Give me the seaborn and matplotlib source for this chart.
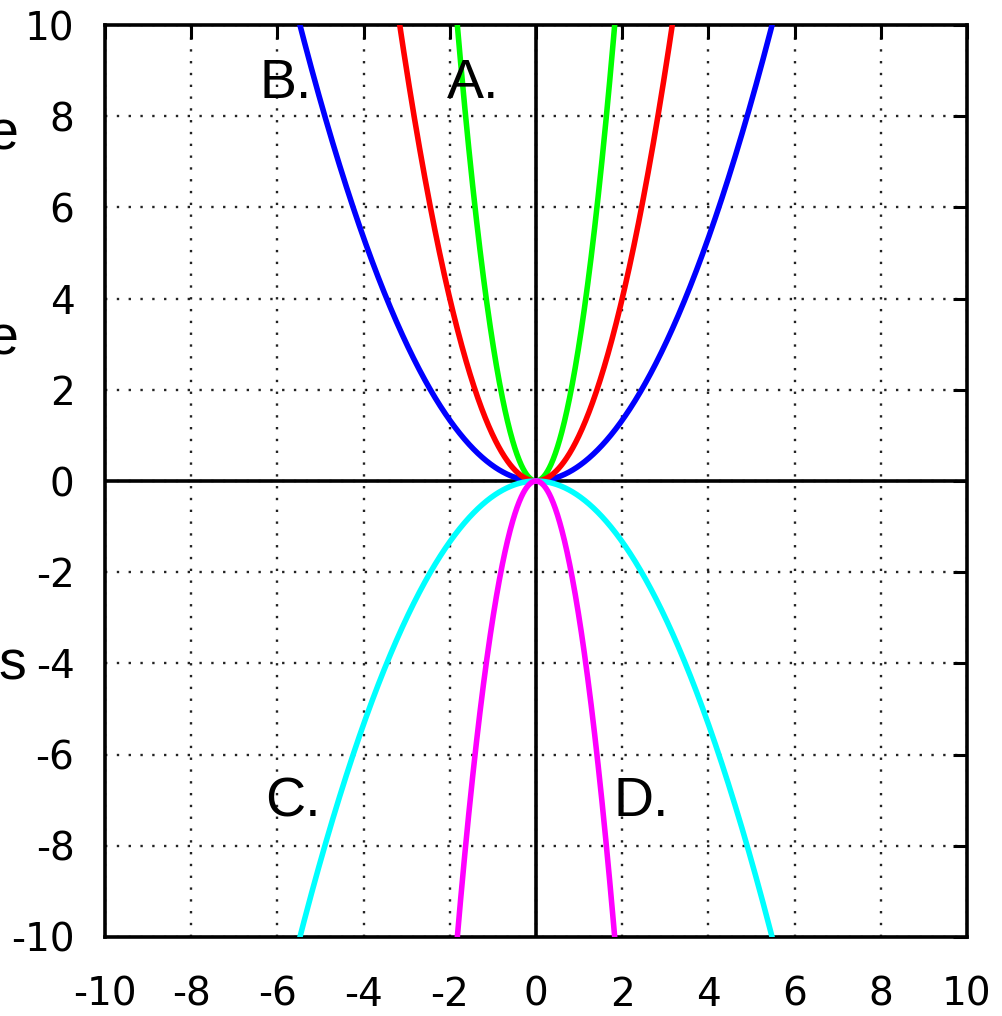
import numpy as np
import pandas as pd
import matplotlib
matplotlib.use("Agg")
import matplotlib.pyplot as plt
import seaborn as sns

# Parabolas y = a * x^2
curve_names = ["A_pos", "B_pos", "mid_pos", "C_neg", "D_neg"]
curve_coeffs = [3.0, 1.0 / 3.0, 1.0, -1.0 / 3.0, -3.0]
curve_colors = ["#00ff00", "#0000ff", "#ff0000", "#00ffff", "#ff00ff"]

tick_values = [-10, -8, -6, -4, -2, 0, 2, 4, 6, 8, 10]

label_texts = ["A.", "B.", "C.", "D."]
label_x = [-1.45, -5.8, -5.65, 2.45]
label_y = [8.7, 8.7, -7.05, -7.05]

sns.set_style("white")
plt.rcParams["axes.unicode_minus"] = False
plt.rcParams["text.color"] = "black"

xs = np.linspace(-6, 6, 1201)
frames = []
for name, a in zip(curve_names, curve_coeffs):
    ys = a * xs ** 2
    keep = np.abs(ys) <= 10.3
    frames.append(pd.DataFrame({"x": xs[keep], "y": ys[keep], "curve": name}))
df = pd.concat(frames, ignore_index=True)

fig = plt.figure(figsize=(10.02, 10.16), dpi=100)
ax = fig.add_axes([105 / 1002, 1 - 937 / 1016, (967 - 105) / 1002, (937 - 25) / 1016])

# dotted grid
for t in tick_values:
    ax.axvline(t, color="#222222", lw=1.7, ls=(0, (1, 4)), zorder=0)
    ax.axhline(t, color="#222222", lw=1.7, ls=(0, (1, 4)), zorder=0)

ax.axhline(0, color="black", lw=2.6, zorder=1)
ax.axvline(0, color="black", lw=2.6, zorder=1)

sns.lineplot(data=df, x="x", y="y", hue="curve", hue_order=curve_names,
             palette=dict(zip(curve_names, curve_colors)), sort=False,
             estimator=None, lw=4.0, legend=False, ax=ax, zorder=3)

ax.set_xlim(-10, 10)
ax.set_ylim(-10, 10)
ax.set_xticks(tick_values)
ax.set_yticks(tick_values)
ax.set_xlabel("")
ax.set_ylabel("")
ax.tick_params(direction="in", length=10, width=2.2, labelsize=28,
               top=True, right=True, colors="black")
ax.tick_params(axis="x", pad=28)
ax.tick_params(axis="y", pad=22)
for lab in ax.get_xticklabels() + ax.get_yticklabels():
    lab.set_family("DejaVu Sans")
for s in ax.spines.values():
    s.set_linewidth(2.6)
    s.set_color("black")
    s.set_visible(True)

for txt, x, y in zip(label_texts, label_x, label_y):
    ax.text(x, y, txt, ha="center", va="center", fontsize=40,
            family="Liberation Sans", color="black", zorder=5)

# text running off the left edge
for txt, yy in zip(["e", "e", "s"], [135, 340, 665]):
    fig.text(0.018 if txt == "e" else 0.026, 1 - yy / 1016, txt,
             ha="right", va="center", fontsize=40, family="Liberation Sans",
             color="black")

fig.savefig("out.png", dpi=100)
